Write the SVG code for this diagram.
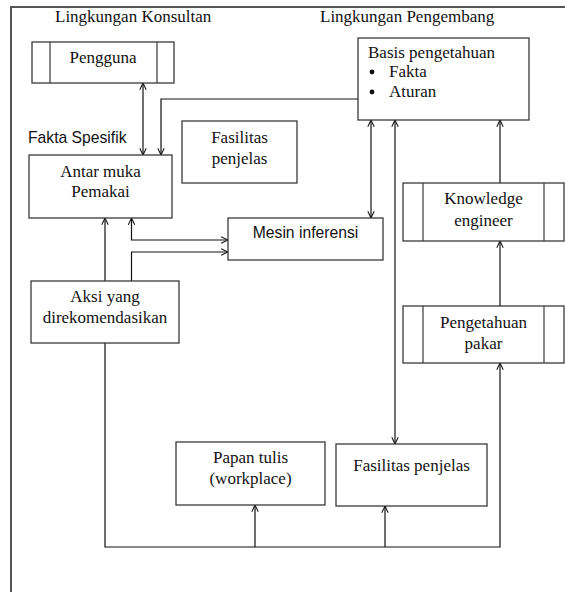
<svg xmlns="http://www.w3.org/2000/svg" width="565" height="592" viewBox="0 0 565 592">
<style>
.box{fill:#fff;stroke:#3a3a3a;stroke-width:1.3}
.inner{stroke:#3a3a3a;stroke-width:1.2}
.frame{fill:none;stroke:#555;stroke-width:2}
.s{font-family:"Liberation Serif","Times New Roman",serif;font-size:17px;fill:#111}
.ss{font-family:"Liberation Sans",Arial,sans-serif;font-size:15.7px;fill:#111}
.c{text-anchor:middle}
.conn path{fill:none;stroke:#111;stroke-width:1.2}
.end{marker-end:url(#arr)}
.both{marker-end:url(#arr);marker-start:url(#arr)}
</style>
<defs>
<marker id="arr" viewBox="0 0 10 10" refX="9.5" refY="5" markerWidth="8" markerHeight="8" markerUnits="userSpaceOnUse" orient="auto-start-reverse">
<path d="M1,1 L9.5,5 L1,9" fill="none" stroke="#111" stroke-width="1.3"/>
</marker>
</defs>
<rect width="565" height="592" fill="#fff"/>
<g id="frame">
<path class="frame" d="M11,592 V7 H565"/>
<text class="s" x="55" y="22">Lingkungan Konsultan</text>
<text class="s" x="320" y="22">Lingkungan Pengembang</text>
<text class="ss" x="28" y="143">Fakta Spesifik</text>
</g>
<g class="conn" id="connectors">
<path class="both" d="M143,83 V155"/>
<path class="end" d="M358,99 H161 V155"/>
<path class="both" d="M371,120 V218"/>
<path class="both" d="M395,120 V444"/>
<path class="end" d="M500,183 V120"/>
<path class="end" d="M500,306 V241"/>
<path class="both" d="M131.5,218 V240 H228"/>
<path class="end" d="M131.5,281 V252 H228"/>
<path class="end" d="M105,281 V218"/>
<path class="end" d="M105,343 V547 H500 V363"/>
<path class="end" d="M255,547 V505"/>
<path class="end" d="M385,547 V506"/>
</g>
<g id="pengguna">
<rect class="box" x="32" y="42" width="142" height="41"/>
<line class="inner" x1="50" y1="42" x2="50" y2="83"/>
<line class="inner" x1="157" y1="42" x2="157" y2="83"/>
<text class="s c" x="103" y="63">Pengguna</text>
</g>
<g id="basis">
<rect class="box" x="358" y="38" width="171" height="82"/>
<text class="s" x="368" y="58">Basis pengetahuan</text>
<circle cx="372" cy="72" r="2.4" fill="#111"/>
<text class="s" x="389" y="77">Fakta</text>
<circle cx="372" cy="92" r="2.4" fill="#111"/>
<text class="s" x="389" y="97">Aturan</text>
</g>
<g id="antarmuka">
<rect class="box" x="29" y="155" width="143" height="63"/>
<text class="s c" x="100.5" y="177">Antar muka</text>
<text class="s c" x="100.5" y="197">Pemakai</text>
</g>
<g id="fasilitas1">
<rect class="box" x="182" y="121" width="115" height="62"/>
<text class="s c" x="239.5" y="143">Fasilitas</text>
<text class="s c" x="239.5" y="164">penjelas</text>
</g>
<g id="mesin">
<rect class="box" x="228" y="218" width="155" height="42"/>
<text class="ss c" x="305.5" y="238">Mesin inferensi</text>
</g>
<g id="knowledge">
<rect class="box" x="403" y="183" width="161" height="58"/>
<line class="inner" x1="423" y1="183" x2="423" y2="241"/>
<line class="inner" x1="544" y1="183" x2="544" y2="241"/>
<text class="s c" x="483.5" y="204">Knowledge</text>
<text class="s c" x="483.5" y="226">engineer</text>
</g>
<g id="pakar">
<rect class="box" x="403" y="306" width="161" height="57"/>
<line class="inner" x1="423" y1="306" x2="423" y2="363"/>
<line class="inner" x1="544" y1="306" x2="544" y2="363"/>
<text class="s c" x="483.5" y="328">Pengetahuan</text>
<text class="s c" x="483.5" y="349">pakar</text>
</g>
<g id="aksi">
<rect class="box" x="31" y="281" width="148" height="62"/>
<text class="s c" x="105" y="302">Aksi yang</text>
<text class="s c" x="105" y="323">direkomendasikan</text>
</g>
<g id="papan">
<rect class="box" x="176" y="442" width="149" height="63"/>
<text class="s c" x="250.5" y="463">Papan tulis</text>
<text class="s c" x="250.5" y="484">(workplace)</text>
</g>
<g id="fasilitas2">
<rect class="box" x="336" y="444" width="151" height="62"/>
<text class="s c" x="411.5" y="471">Fasilitas penjelas</text>
</g>
</svg>
